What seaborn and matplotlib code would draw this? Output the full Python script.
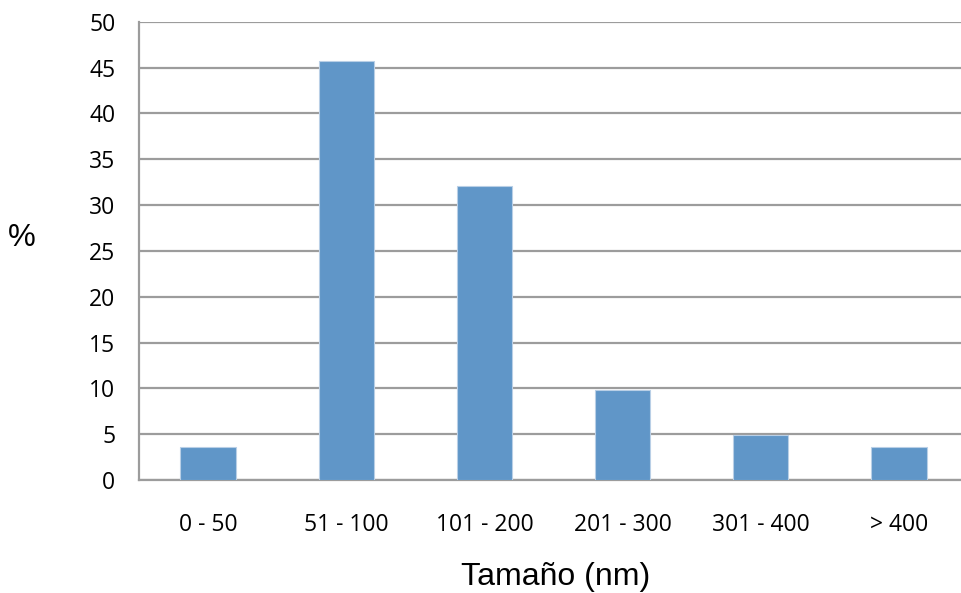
import matplotlib
matplotlib.use("Agg")
import matplotlib.pyplot as plt
import seaborn as sns
import pandas as pd

categories = ["0 - 50", "51 - 100", "101 - 200", "201 - 300", "301 - 400", "> 400"]
percent = [3.6, 45.7, 32.1, 9.8, 4.9, 3.6]
y_ticks = [0, 5, 10, 15, 20, 25, 30, 35, 40, 45, 50]

df = pd.DataFrame({"cat": categories, "pct": percent})

sns.set_theme(style="white")
W, H = 961, 593
fig = plt.figure(figsize=(W / 100, H / 100), dpi=100)
left, right, top, bottom = 139, 968, 21.7, 480
ax = fig.add_axes([left / W, 1 - bottom / H, (right - left) / W, (bottom - top) / H])

sns.barplot(data=df, x="cat", y="pct", color="#6096c8", width=0.4, saturation=1,
            ax=ax, zorder=3, edgecolor="#b9cfe6", linewidth=0.8)

grid_c = "#9c9c9c"
ax.set_ylim(0, 50)
ax.set_xlim(-0.5, len(categories) - 0.5)
ax.set_yticks(y_ticks)
ax.set_yticklabels([str(t) for t in y_ticks])
ax.yaxis.grid(True, color=grid_c, linewidth=1.6, zorder=0)
ax.xaxis.grid(False)
ax.set_axisbelow(True)

for s in ["top", "right"]:
    ax.spines[s].set_visible(False)
ax.spines["left"].set_color(grid_c)
ax.spines["left"].set_linewidth(1.6)
ax.spines["bottom"].set_color(grid_c)
ax.spines["bottom"].set_linewidth(1.6)

ax.set_xticks([i for i in range(len(categories))])
ax.set_xticklabels(categories)
ax.set_xticks([i - 0.5 for i in range(len(categories) + 1)], minor=True)
ax.tick_params(axis="x", which="major", length=0, pad=24)
ax.tick_params(axis="x", which="minor", length=8, width=1.6, color=grid_c, direction="out")
ax.tick_params(axis="y", which="major", length=8, width=1.6, color=grid_c, direction="out", pad=9)

for lab in ax.get_xticklabels() + ax.get_yticklabels():
    lab.set_fontfamily("Open Sans")
    lab.set_fontsize(16.5)
    lab.set_color("black")

ax.set_xlabel("")
ax.set_ylabel("")
fig.text(22 / W, 1 - 238 / H, "%", fontfamily="Liberation Sans", fontsize=22.5,
         ha="center", va="center", color="black")
fig.text(556 / W, 1 - 577 / H, "Tamaño (nm)", fontfamily="Liberation Sans", fontsize=23,
         ha="center", va="center", color="black")

fig.savefig("out.png", dpi=100)
